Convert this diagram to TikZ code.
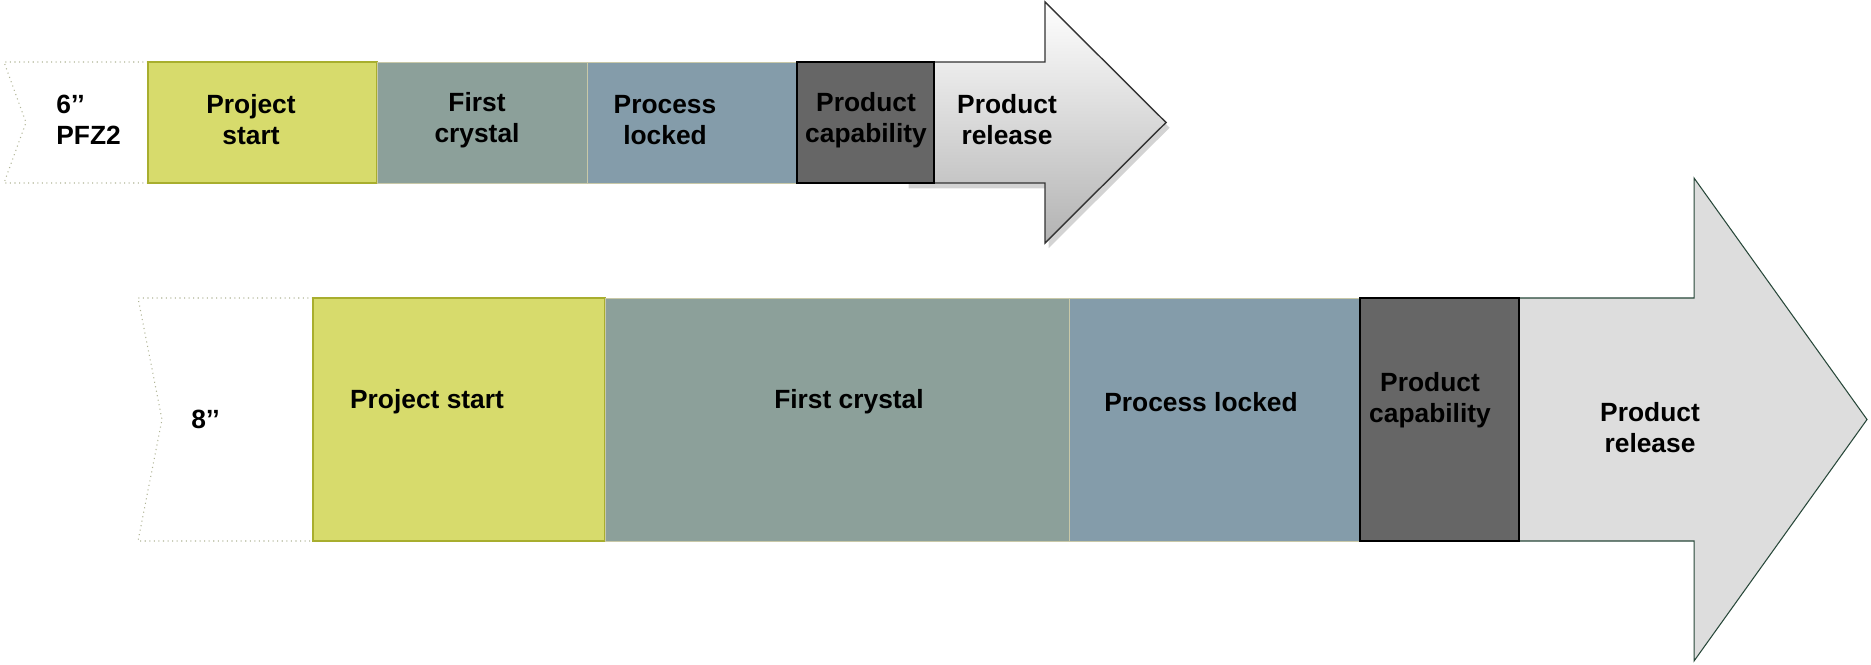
\documentclass[tikz,border=0pt]{standalone}
\usepackage{fontspec}
\setmainfont{Liberation Sans}
\usetikzlibrary{shadows}
\usepackage{xcolor}

\definecolor{startgreen}{RGB}{215,219,108}
\definecolor{startedge}{RGB}{168,174,46}
\definecolor{crystalgrey}{RGB}{140,160,154}
\definecolor{lockedblue}{RGB}{132,156,170}
\definecolor{capgrey}{RGB}{102,102,102}
\definecolor{releasegrey}{RGB}{221,221,221}
\definecolor{arrowedge}{RGB}{40,72,58}
\definecolor{chevedge}{RGB}{176,180,150}
\definecolor{bandedge}{RGB}{200,200,168}

\begin{document}
\begin{tikzpicture}[
  x=0.02cm, y=-0.02cm,
  % Global label styling
  every node/.style={font=\bfseries\fontsize{15}{17.6}\selectfont, align=center, inner sep=0pt},
  % Band pieces
  chevron/.style={draw=chevedge, dotted, fill=white, line width=0.6pt},
  startbox/.style={draw=startedge, fill=startgreen, line width=0.7pt},
  crystalbox/.style={draw=bandedge, fill=crystalgrey, line width=0.5pt},
  lockedbox/.style={draw=bandedge, fill=lockedblue, line width=0.5pt},
  capbox/.style={draw=black, fill=capgrey, line width=0.7pt},
  % Release arrows
  toparrow/.style={draw=black!80, line width=0.8pt, top color=white, bottom color=black!30,
    drop shadow={shadow xshift=2pt, shadow yshift=-3pt, opacity=0.35}},
  lowarrow/.style={draw=arrowedge, fill=releasegrey, line width=0.6pt}
]
\useasboundingbox (0,0) rectangle (1871,665);

% ---- 6'' row ----
\draw[toparrow] (905,62) -- (1045,62) -- (1045,2) -- (1166,122.5) -- (1045,243) -- (1045,183) -- (905,183) -- cycle;
\draw[chevron] (148,62) -- (4,62) -- (26,122.5) -- (4,183) -- (148,183);
\draw[startbox] (148,62) rectangle (377,183);
\draw[crystalbox] (377,62) rectangle (587,183);
\draw[lockedbox] (587,62) rectangle (797,183);
\draw[capbox] (797,62) rectangle (934,183);

\node[anchor=west, align=left] (sixlbl) at (56,120) {6’’\\PFZ2};
\node (sixstart) at (251,120) {Project\\start};
\node (sixcrystal) at (477,120) {First\\crystal};
\node (sixlocked) at (665,120) {Process\\locked};
\node (sixcap) at (866,120) {Product\\capability};
\node (sixrelease) at (1007,120) {Product\\release};

% ---- 8'' row ----
\draw[lowarrow] (1500,298) -- (1694,298) -- (1694,178) -- (1867,419.5) -- (1694,661) -- (1694,541) -- (1500,541) -- cycle;
\draw[chevron] (313,298) -- (138,298) -- (162,419.5) -- (138,541) -- (313,541);
\draw[startbox] (313,298) rectangle (605,541);
\draw[crystalbox] (605,298) rectangle (1069,541);
\draw[lockedbox] (1069,298) rectangle (1360,541);
\draw[capbox] (1360,298) rectangle (1519,541);

\node[anchor=west] (eightlbl) at (191,419) {8’’};
\node (eightstart) at (427,402) {Project start};
\node (eightcrystal) at (849,402) {First crystal};
\node (eightlocked) at (1201,402) {Process locked};
\node (eightcap) at (1430,400) {Product\\capability};
\node (eightrelease) at (1650,428) {Product\\release};

\end{tikzpicture}
\end{document}
